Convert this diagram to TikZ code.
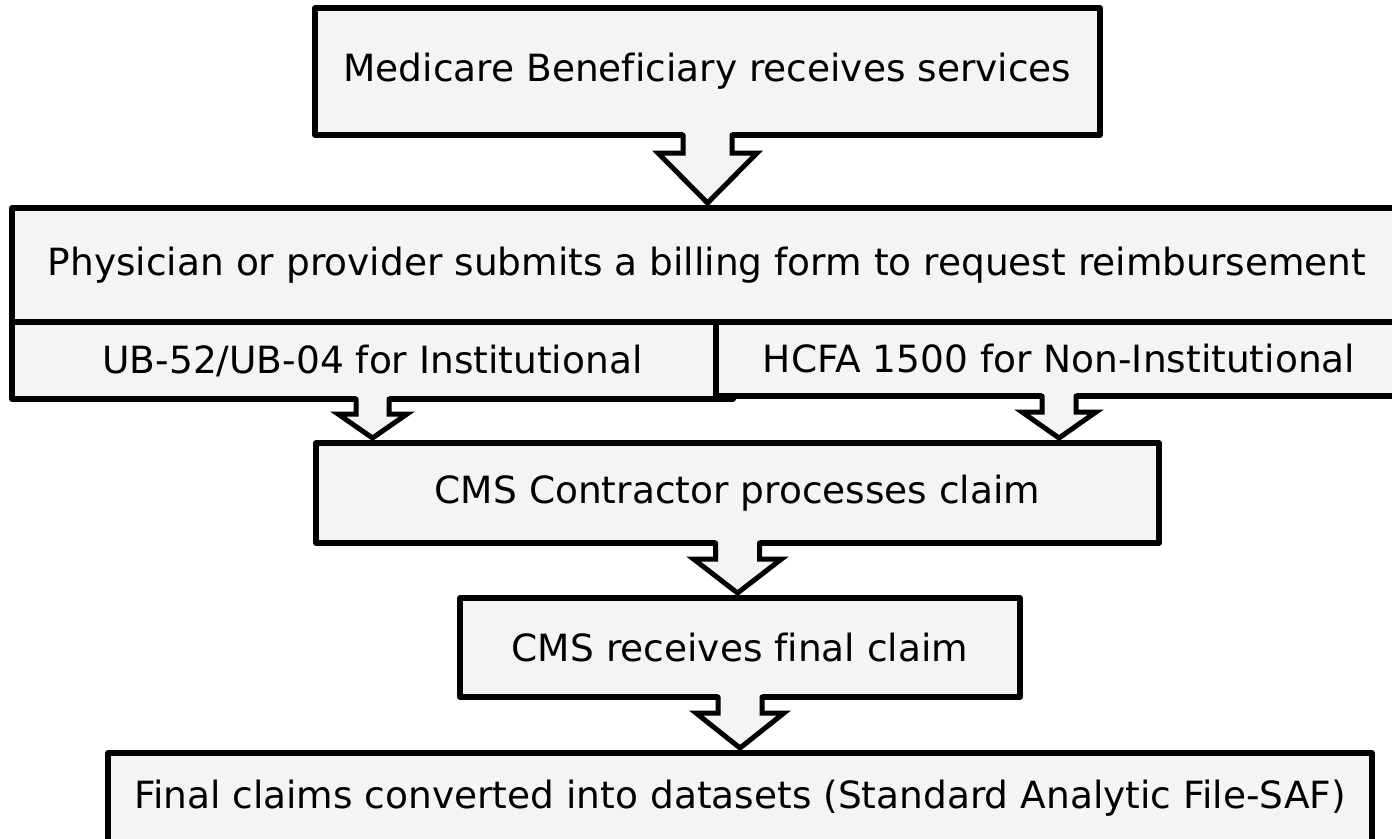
\documentclass[tikz,border=0pt]{standalone}
\usepackage{fontspec}
\setmainfont[Ligatures=NoCommon]{DejaVu Sans}
\usetikzlibrary{calc}
\definecolor{boxfill}{HTML}{F4F4F4}
\tikzset{
  box/.style={draw=black, fill=boxfill, line width=5.5pt, line join=round,
    inner sep=0pt, outer sep=0pt, font=\fontsize{37.5}{42}\selectfont, align=center},
  arrowline/.style={draw=black, line width=5pt, line join=miter, line cap=round},
}
% #1 start anchor, #2 end anchor, #3 shaft half width, #4 wing half width, #5 shaft length
\newcommand\flowarrow[5]{%
  \coordinate (fa-s) at (#1);
  \coordinate (fa-e) at (#1 |- #2);
  \coordinate (fa-t) at ($(fa-e)+(0,-5)$);
  \fill[boxfill] ($(fa-s)+(-#3,-4)$) -- ($(fa-s)+(-#3,#5)$) -- ($(fa-s)+(-#4,#5)$) -- (fa-t)
     -- ($(fa-s)+(#4,#5)$) -- ($(fa-s)+(#3,#5)$) -- ($(fa-s)+(#3,-4)$) -- cycle;
  \draw[arrowline] ($(fa-s)+(-#3,0)$) -- ($(fa-s)+(-#3,#5)$) -- ($(fa-s)+(-#4,#5)$) -- (fa-t)
     -- ($(fa-s)+(#4,#5)$) -- ($(fa-s)+(#3,#5)$) -- ($(fa-s)+(#3,0)$);
}
\begin{document}
\begin{tikzpicture}[x=1pt,y=-1pt]
\useasboundingbox (0,0) rectangle (1392,838);
\fill[white] (0,0) rectangle (1392,838);
\clip (0,0) rectangle (1392,838);
\node[box, minimum width=785pt, minimum height=127pt] (b1) at (707.5,71.5) {Medicare Beneficiary receives services};
\node[box, minimum width=1390pt, minimum height=114pt] (b2) at (707,265) {Physician or provider submits a billing form to request reimbursement};
\node[box, minimum width=721pt, minimum height=77pt] (ub) at (372.5,360.5) {UB-52/UB-04 for Institutional};
\node[box, minimum width=686pt, minimum height=74pt] (hcfa) at (1059,359) {HCFA 1500 for Non-Institutional};
\node[box, minimum width=843pt, minimum height=100pt] (b3) at (737.5,493) {CMS Contractor processes claim};
\node[box, minimum width=560pt, minimum height=99pt] (b4) at (740,647.5) {CMS receives final claim};
\node[box, minimum width=1264pt, minimum height=90pt] (b5) at (740,798) {Final claims converted into datasets (Standard Analytic File-SAF)};
\flowarrow{b1.south}{b2.north}{24.5}{49.5}{18}
\flowarrow{ub.south}{b3.north}{16.5}{34.5}{15}
\flowarrow{hcfa.south}{b3.north}{17}{37}{16}
\flowarrow{b3.south}{b4.north}{22}{44}{16}
\flowarrow{b4.south}{b5.north}{22}{44}{16}
\end{tikzpicture}
\end{document}
